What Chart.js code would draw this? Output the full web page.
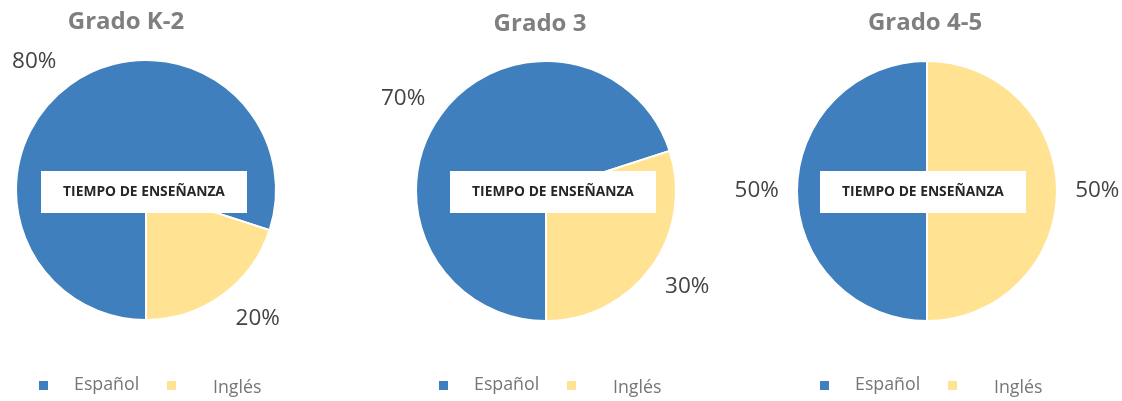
<!DOCTYPE html>
<html>
<head>
<meta charset="utf-8">
<script src="https://cdn.jsdelivr.net/npm/chart.js@4/dist/chart.umd.min.js"></script>
<style>
html,body{margin:0;padding:0;background:#fff;}
#wrap{position:relative;width:1122px;height:401px;overflow:hidden;}
#wrap canvas{position:absolute;left:0;top:0;}
</style>
</head>
<body>
<div id="wrap">
<canvas id="c0" width="1122" height="401"></canvas>
<canvas id="c1" width="1122" height="401"></canvas>
<canvas id="c2" width="1122" height="401"></canvas>
</div>
<script>
// ---- data ----
const grades = ['Grado K-2', 'Grado 3', 'Grado 4-5'];
const categories = ['Español', 'Inglés'];
const espanol = [80, 70, 50];
const ingles = [20, 30, 50];
const centerText = 'TIEMPO DE ENSEÑANZA';

// ---- layout / style ----
const colors = ['#3F7FBD', '#FFE393'];
const centersX = [146, 546, 927];
const centersY = [190, 191, 191];
const half = 131;
const titleX = [126, 540, 925];
const titleY = [22, 24, 23];
const boxLeft = [41, 450, 820];
const labelAngleTweak = [[-5, -5], [-3, -2], [0, 0]];

function makePlugin(i) {
  return {
    id: 'deco' + i,
    afterDraw(chart) {
      const ctx = chart.ctx;
      const cx = centersX[i], cy = centersY[i];
      ctx.save();
      // title
      ctx.fillStyle = '#7F7F7F';
      ctx.font = 'bold 24px "Open Sans"';
      ctx.textAlign = 'center';
      ctx.textBaseline = 'middle';
      ctx.fillText(chart.options.plugins.title.text, titleX[i], titleY[i]);
      // center box
      ctx.fillStyle = '#FFFFFF';
      ctx.fillRect(boxLeft[i], 171, 206, 42);
      ctx.fillStyle = '#262626';
      ctx.font = 'bold 13.8px "Open Sans"';
      ctx.fillText(centerText, boxLeft[i] + 103, 192);
      // percentage labels from arcs
      const meta = chart.getDatasetMeta(0);
      const ds = chart.data.datasets[0];
      const total = ds.data.reduce((a, b) => a + b, 0);
      ctx.fillStyle = '#444444';
      ctx.font = '22.5px "Open Sans"';
      meta.data.forEach((arc, k) => {
        const p = arc.getProps(['x', 'y', 'startAngle', 'endAngle', 'outerRadius'], true);
        const mid = (p.startAngle + p.endAngle) / 2 + labelAngleTweak[i][k] * Math.PI / 180;
        const rr = p.outerRadius * 1.31;
        const lx = p.x + Math.cos(mid) * rr;
        const ly = p.y + Math.sin(mid) * rr;
        ctx.fillText(Math.round(ds.data[k] / total * 100) + '%', lx, ly);
      });
      // legend
      ctx.font = '17.8px "Open Sans"';
      ctx.textAlign = 'left';
      const legItems = [
        {sq: cx - 107, tx: cx - 72, dy: 0},
        {sq: cx + 21, tx: cx + 67, dy: 3}
      ];
      chart.data.labels.forEach((lab, k) => {
        ctx.fillStyle = ds.backgroundColor[k];
        ctx.fillRect(legItems[k].sq, 381, 9, 9);
        ctx.fillStyle = '#767676';
        ctx.fillText(lab, legItems[k].tx, 385 + legItems[k].dy);
      });
      ctx.restore();
    }
  };
}

grades.forEach((g, i) => {
  const cx = centersX[i], cy = centersY[i];
  new Chart(document.getElementById('c' + i), {
    type: 'pie',
    data: {
      labels: categories,
      datasets: [{
        data: [espanol[i], ingles[i]],
        backgroundColor: colors,
        borderColor: '#FFFFFF',
        borderWidth: 2
      }]
    },
    options: {
      responsive: false,
      animation: false,
      rotation: 180,
      layout: {
        padding: {
          left: cx - half,
          right: 1122 - (cx + half),
          top: cy - half,
          bottom: 401 - (cy + half)
        }
      },
      plugins: {
        legend: {display: false},
        tooltip: {enabled: false},
        title: {display: false, text: g}
      }
    },
    plugins: [makePlugin(i)]
  });
});
</script>
</body>
</html>
